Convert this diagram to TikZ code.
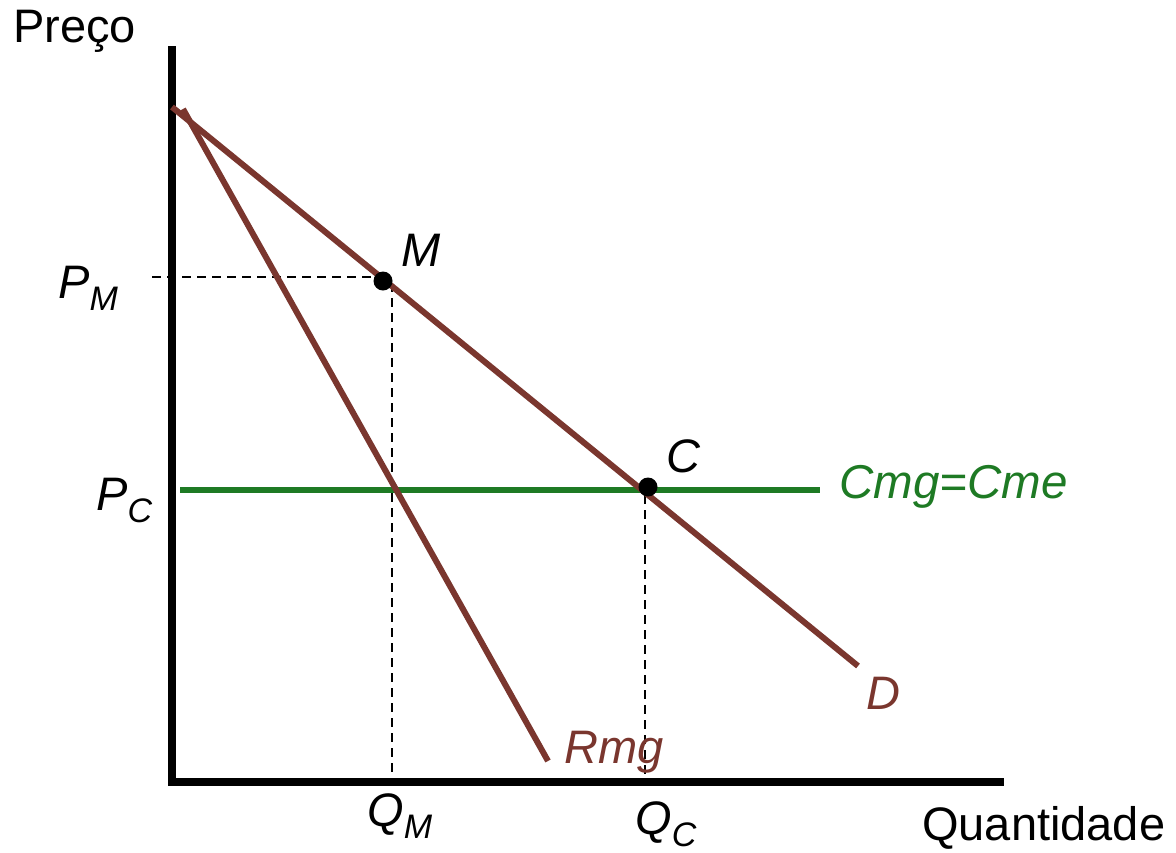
\documentclass[tikz,border=0pt]{standalone}
\usepackage{fontspec}
\setmainfont{Liberation Sans}
\definecolor{brn}{RGB}{122,54,46}
\definecolor{grn}{RGB}{30,122,36}
\newcommand{\lbl}[2]{{\itshape #1}\raisebox{-12pt}{\fontsize{34}{34}\selectfont\itshape #2}}
\begin{document}
\begin{tikzpicture}[x=1pt,y=-1pt,
  axis/.style={line width=8pt},
  curve/.style={brn,line width=6pt},
  cost/.style={grn,line width=6.5pt},
  guide/.style={line width=2.4pt,dash pattern=on 9pt off 6pt},
  dot/.style={circle,fill=black,inner sep=0pt,minimum size=19pt},
  txt/.style={inner sep=0pt,anchor=base west,font=\fontsize{47}{56}\selectfont},
  ]
\useasboundingbox (0,0) rectangle (1176,852);
% axes
\coordinate (ytop) at (172,46);
\coordinate (orig) at (172,782);
\coordinate (xend) at (1004,782);
\draw[axis] (ytop) -- (orig |- 0,786) ;
\draw[axis] (orig) -- (xend);
% curves
\coordinate (Dtop) at (172,107);
\coordinate (Dend) at (858,666);
\coordinate (Rtop) at (183,109);
\coordinate (Rend) at (548,761);
\coordinate (Cl) at (180,490);
\coordinate (Cr) at (820,490);
% guides
\coordinate (PMl) at (152,277);
\coordinate (QMt) at (392,283);
\coordinate (QMb) at (392,779);
\coordinate (QCt) at (645,495);
\coordinate (QCb) at (645,779);
\draw[guide] (PMl) -- (383,277);
\draw[guide] (QMt) -- (QMb);
\draw[guide] (QCt) -- (QCb);
\draw[cost] (Cl) -- (Cr);
\draw[curve] (Dtop) -- (Dend);
\draw[curve] (Rtop) -- (Rend);
\node[dot] (M) at (383,281) {};
\node[dot] (C) at (648,487) {};
% labels
\node[txt] (preco) at (13,42) {Preço};
\node[txt] (quant) at (922,840) {Quantidade};
\node[txt] (PM) at (58,298) {\lbl{P}{M}};
\node[txt] (PC) at (96,510) {\lbl{P}{C}};
\node[txt] (QM) at (367,826) {\lbl{Q}{M}};
\node[txt] (QC) at (635,834) {\lbl{Q}{C}};
\node[txt,font=\fontsize{47}{56}\selectfont\itshape] (Ml) at (401,266) {M};
\node[txt,font=\fontsize{47}{56}\selectfont\itshape] (Cl2) at (666,472) {C};
\node[txt,grn,font=\fontsize{47.5}{56}\selectfont\itshape] (cmg) at (839,498) {Cmg=Cme};
\node[txt,brn,font=\fontsize{47}{56}\selectfont\itshape] (Dl) at (866,709) {D};
\node[txt,brn,font=\fontsize{47}{56}\selectfont\itshape] (Rl) at (564,763) {Rmg};
\end{tikzpicture}
\end{document}
